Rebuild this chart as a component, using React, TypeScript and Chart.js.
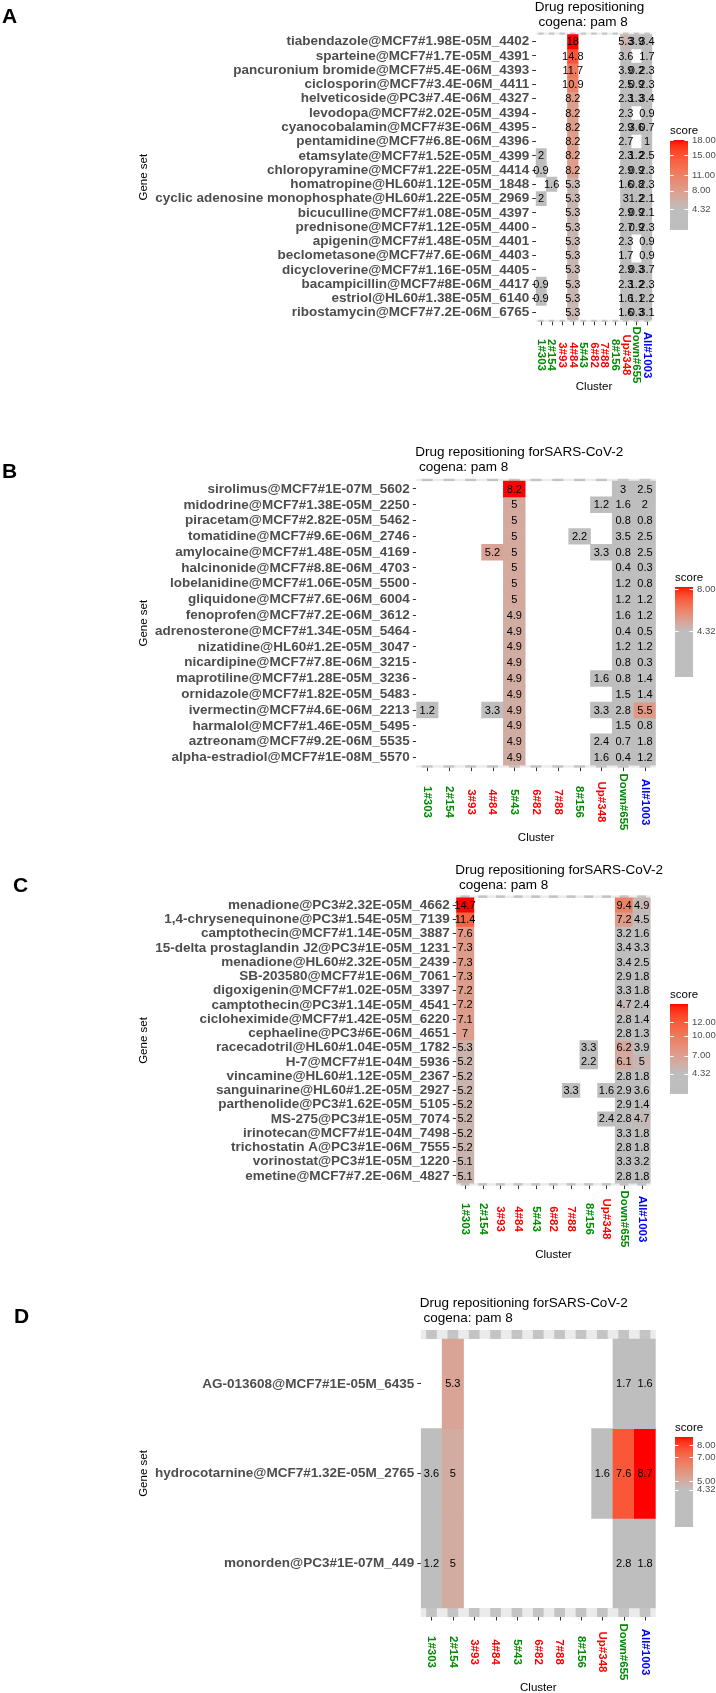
import React, { useEffect, useRef } from "react";
import { Chart, registerables } from "chart.js";

Chart.register(...registerables);

type Cell = number | null;
const _ = null;

// ---------- shared axis data ----------
const clusters = ["1#303", "2#154", "3#93", "4#84", "5#43", "6#82", "7#88", "8#156", "Up#348", "Down#655", "All#1003"];
const clusterColors = ["#008B00", "#008B00", "#FF0000", "#FF0000", "#008B00", "#FF0000", "#FF0000", "#008B00", "#FF0000", "#008B00", "#0000FF"];
const THRESHOLD = 4.32;

// ---------- panel A ----------
const aGeneSets = [
  "tiabendazole@MCF7#1.98E-05M_4402",
  "sparteine@MCF7#1.7E-05M_4391",
  "pancuronium bromide@MCF7#5.4E-06M_4393",
  "ciclosporin@MCF7#3.4E-06M_4411",
  "helveticoside@PC3#7.4E-06M_4327",
  "levodopa@MCF7#2.02E-05M_4394",
  "cyanocobalamin@MCF7#3E-06M_4395",
  "pentamidine@MCF7#6.8E-06M_4396",
  "etamsylate@MCF7#1.52E-05M_4399",
  "chloropyramine@MCF7#1.22E-05M_4414",
  "homatropine@HL60#1.12E-05M_1848",
  "cyclic adenosine monophosphate@HL60#1.22E-05M_2969",
  "bicuculline@MCF7#1.08E-05M_4397",
  "prednisone@MCF7#1.12E-05M_4400",
  "apigenin@MCF7#1.48E-05M_4401",
  "beclometasone@MCF7#7.6E-06M_4403",
  "dicycloverine@MCF7#1.16E-05M_4405",
  "bacampicillin@MCF7#8E-06M_4417",
  "estriol@HL60#1.38E-05M_6140",
  "ribostamycin@MCF7#7.2E-06M_6765",
];
const aScores: Cell[][] = [
  [_, _, _, 18, _, _, _, _, 5.3, 3.9, 3.4],
  [_, _, _, 14.8, _, _, _, _, 3.6, _, 1.7],
  [_, _, _, 11.7, _, _, _, _, 3.9, 0.2, 2.3],
  [_, _, _, 10.9, _, _, _, _, 2.5, 0.9, 2.3],
  [_, _, _, 8.2, _, _, _, _, 2.3, 1.3, 3.4],
  [_, _, _, 8.2, _, _, _, _, 2.3, _, 0.9],
  [_, _, _, 8.2, _, _, _, _, 2.9, 3.6, 0.7],
  [_, _, _, 8.2, _, _, _, _, 2.7, _, 1],
  [2, _, _, 8.2, _, _, _, _, 2.3, 1.2, 2.5],
  [0.9, _, _, 8.2, _, _, _, _, 2.9, 0.9, 2.3],
  [_, 1.6, _, 5.3, _, _, _, _, 1.6, 0.8, 2.3],
  [2, _, _, 5.3, _, _, _, _, 3, 1.2, 2.1],
  [_, _, _, 5.3, _, _, _, _, 2.9, 0.9, 2.1],
  [_, _, _, 5.3, _, _, _, _, 2.7, 0.9, 2.3],
  [_, _, _, 5.3, _, _, _, _, 2.3, _, 0.9],
  [_, _, _, 5.3, _, _, _, _, 1.7, _, 0.9],
  [_, _, _, 5.3, _, _, _, _, 2.9, 0.3, 3.7],
  [0.9, _, _, 5.3, _, _, _, _, 2.3, 1.2, 2.3],
  [0.9, _, _, 5.3, _, _, _, _, 1.6, 1.1, 2.2],
  [_, _, _, 5.3, _, _, _, _, 1.6, 0.3, 3.1],
];
const aBreaks = [18, 15, 11, 8, 4.32];

// ---------- panel B ----------
const bGeneSets = [
  "sirolimus@MCF7#1E-07M_5602",
  "midodrine@MCF7#1.38E-05M_2250",
  "piracetam@MCF7#2.82E-05M_5462",
  "tomatidine@MCF7#9.6E-06M_2746",
  "amylocaine@MCF7#1.48E-05M_4169",
  "halcinonide@MCF7#8.8E-06M_4703",
  "lobelanidine@MCF7#1.06E-05M_5500",
  "gliquidone@MCF7#7.6E-06M_6004",
  "fenoprofen@MCF7#7.2E-06M_3612",
  "adrenosterone@MCF7#1.34E-05M_5464",
  "nizatidine@HL60#1.2E-05M_3047",
  "nicardipine@MCF7#7.8E-06M_3215",
  "maprotiline@MCF7#1.28E-05M_3236",
  "ornidazole@MCF7#1.82E-05M_5483",
  "ivermectin@MCF7#4.6E-06M_2213",
  "harmalol@MCF7#1.46E-05M_5495",
  "aztreonam@MCF7#9.2E-06M_5535",
  "alpha-estradiol@MCF7#1E-08M_5570",
];
const bScores: Cell[][] = [
  [_, _, _, _, 8.2, _, _, _, _, 3, 2.5],
  [_, _, _, _, 5, _, _, _, 1.2, 1.6, 2],
  [_, _, _, _, 5, _, _, _, _, 0.8, 0.8],
  [_, _, _, _, 5, _, _, 2.2, _, 3.5, 2.5],
  [_, _, _, 5.2, 5, _, _, _, 3.3, 0.8, 2.5],
  [_, _, _, _, 5, _, _, _, _, 0.4, 0.3],
  [_, _, _, _, 5, _, _, _, _, 1.2, 0.8],
  [_, _, _, _, 5, _, _, _, _, 1.2, 1.2],
  [_, _, _, _, 4.9, _, _, _, _, 1.6, 1.2],
  [_, _, _, _, 4.9, _, _, _, _, 0.4, 0.5],
  [_, _, _, _, 4.9, _, _, _, _, 1.2, 1.2],
  [_, _, _, _, 4.9, _, _, _, _, 0.8, 0.3],
  [_, _, _, _, 4.9, _, _, _, 1.6, 0.8, 1.4],
  [_, _, _, _, 4.9, _, _, _, _, 1.5, 1.4],
  [1.2, _, _, 3.3, 4.9, _, _, _, 3.3, 2.8, 5.5],
  [_, _, _, _, 4.9, _, _, _, _, 1.5, 0.8],
  [_, _, _, _, 4.9, _, _, _, 2.4, 0.7, 1.8],
  [_, _, _, _, 4.9, _, _, _, 1.6, 0.4, 1.2],
];
const bBreaks = [8, 4.32];

// ---------- panel C ----------
const cGeneSets = [
  "menadione@PC3#2.32E-05M_4662",
  "1,4-chrysenequinone@PC3#1.54E-05M_7139",
  "camptothecin@MCF7#1.14E-05M_3887",
  "15-delta prostaglandin J2@PC3#1E-05M_1231",
  "menadione@HL60#2.32E-05M_2439",
  "SB-203580@MCF7#1E-06M_7061",
  "digoxigenin@MCF7#1.02E-05M_3397",
  "camptothecin@PC3#1.14E-05M_4541",
  "cicloheximide@MCF7#1.42E-05M_6220",
  "cephaeline@PC3#6E-06M_4651",
  "racecadotril@HL60#1.04E-05M_1782",
  "H-7@MCF7#1E-04M_5936",
  "vincamine@HL60#1.12E-05M_2367",
  "sanguinarine@HL60#1.2E-05M_2927",
  "parthenolide@PC3#1.62E-05M_5105",
  "MS-275@PC3#1E-05M_7074",
  "irinotecan@MCF7#1E-04M_7498",
  "trichostatin A@PC3#1E-06M_7555",
  "vorinostat@PC3#1E-05M_1220",
  "emetine@MCF7#7.2E-06M_4827",
];
const cScores: Cell[][] = [
  [14.7, _, _, _, _, _, _, _, _, 9.4, 4.9],
  [11.4, _, _, _, _, _, _, _, _, 7.2, 4.5],
  [7.6, _, _, _, _, _, _, _, _, 3.2, 1.6],
  [7.3, _, _, _, _, _, _, _, _, 3.4, 3.3],
  [7.3, _, _, _, _, _, _, _, _, 3.4, 2.5],
  [7.3, _, _, _, _, _, _, _, _, 2.9, 1.8],
  [7.2, _, _, _, _, _, _, _, _, 3.3, 1.8],
  [7.2, _, _, _, _, _, _, _, _, 4.7, 2.4],
  [7.1, _, _, _, _, _, _, _, _, 2.8, 1.4],
  [7, _, _, _, _, _, _, _, _, 2.8, 1.3],
  [5.3, _, _, _, _, _, _, 3.3, _, 6.2, 3.9],
  [5.2, _, _, _, _, _, _, 2.2, _, 6.1, 5],
  [5.2, _, _, _, _, _, _, _, _, 2.8, 1.8],
  [5.2, _, _, _, _, _, 3.3, _, 1.6, 2.9, 3.6],
  [5.2, _, _, _, _, _, _, _, _, 2.9, 1.4],
  [5.2, _, _, _, _, _, _, _, 2.4, 2.8, 4.7],
  [5.2, _, _, _, _, _, _, _, _, 3.3, 1.8],
  [5.2, _, _, _, _, _, _, _, _, 2.8, 1.8],
  [5.1, _, _, _, _, _, _, _, _, 3.3, 3.2],
  [5.1, _, _, _, _, _, _, _, _, 2.8, 1.8],
];
const cBreaks = [12, 10, 7, 4.32];

// ---------- panel D ----------
const dGeneSets = [
  "AG-013608@MCF7#1E-05M_6435",
  "hydrocotarnine@MCF7#1.32E-05M_2765",
  "monorden@PC3#1E-07M_449",
];
const dScores: Cell[][] = [
  [_, 5.3, _, _, _, _, _, _, _, 1.7, 1.6],
  [3.6, 5, _, _, _, _, _, _, 1.6, 7.6, 8.7],
  [1.2, 5, _, _, _, _, _, _, _, 2.8, 1.8],
];
const dBreaks = [8, 7, 5, 4.32];

// ---------- colour scale (Lab interpolation grey -> red) ----------
const FONT = "'Liberation Sans', Arial, Helvetica, sans-serif";
const LOW_RGB = [190, 190, 190];
const HIGH_RGB = [255, 0, 0];

function toLin(c: number) {
  const v = c / 255;
  return v <= 0.04045 ? v / 12.92 : Math.pow((v + 0.055) / 1.055, 2.4);
}
function fromLin(c: number) {
  const v = c <= 0.0031308 ? 12.92 * c : 1.055 * Math.pow(c, 1 / 2.4) - 0.055;
  return Math.round(Math.max(0, Math.min(1, v)) * 255);
}
function rgbToLab(rgb: number[]) {
  const [R, G, B] = rgb.map(toLin);
  const X = (0.4124 * R + 0.3576 * G + 0.1805 * B) / 0.95047;
  const Y = 0.2126 * R + 0.7152 * G + 0.0722 * B;
  const Z = (0.0193 * R + 0.1192 * G + 0.9505 * B) / 1.08883;
  const f = (t: number) => (t > 0.008856 ? Math.cbrt(t) : 7.787 * t + 16 / 116);
  const fx = f(X), fy = f(Y), fz = f(Z);
  return [116 * fy - 16, 500 * (fx - fy), 200 * (fy - fz)];
}
function labToRgb(lab: number[]) {
  const [L, a, b] = lab;
  const fy = (L + 16) / 116;
  const fx = fy + a / 500;
  const fz = fy - b / 200;
  const inv = (t: number) => (t * t * t > 0.008856 ? t * t * t : (t - 16 / 116) / 7.787);
  const X = 0.95047 * inv(fx), Y = inv(fy), Z = 1.08883 * inv(fz);
  const R = 3.2406 * X - 1.5372 * Y - 0.4986 * Z;
  const G = -0.9689 * X + 1.8758 * Y + 0.0415 * Z;
  const Bl = 0.0557 * X - 0.204 * Y + 1.057 * Z;
  return [fromLin(R), fromLin(G), fromLin(Bl)];
}
const LOW_LAB = rgbToLab(LOW_RGB);
const HIGH_LAB = rgbToLab(HIGH_RGB);
function scoreColor(v: number, vmax: number) {
  if (v <= THRESHOLD) return `rgb(${LOW_RGB.join(",")})`;
  const t = Math.min(1, (v - THRESHOLD) / (vmax - THRESHOLD));
  const lab = LOW_LAB.map((l, i) => l + (HIGH_LAB[i] - l) * t);
  const [r, g, b] = labToRgb(lab);
  return `rgb(${r},${g},${b})`;
}

// ---------- panel layouts ----------
interface PanelCfg {
  letter: string;
  title1: string;
  title2: string;
  rows: string[];
  scores: Cell[][];
  breaks: number[];
  canvasTop: number;
  height: number;
  left: number;
  right: number;
  top: number;
  bottom: number;
  pad: number;
  letterX: number;
  letterBase: number;
  titleBase: number;
  xLabelY: number;
  clusterY: number;
  legendX: number;
  legendTop: number;
}

const panels: PanelCfg[] = [
  {
    letter: "A", title1: "Drug repositioning", title2: " cogena: pam 8",
    rows: aGeneSets, scores: aScores, breaks: aBreaks,
    canvasTop: 0, height: 420, left: 535.7, right: 652.3, top: 32.6, bottom: 321.8, pad: 0.14,
    letterX: 2, letterBase: 23, titleBase: 10.5, xLabelY: 355, clusterY: 387, legendX: 670, legendTop: 140,
  },
  {
    letter: "B", title1: "Drug repositioning forSARS-CoV-2", title2: " cogena: pam 8",
    rows: bGeneSets, scores: bScores, breaks: bBreaks,
    canvasTop: 420, height: 430, left: 416.3, right: 655.8, top: 478.8, bottom: 767.6, pad: 0.146,
    letterX: 2, letterBase: 478, titleBase: 455.7, xLabelY: 802, clusterY: 837.5, legendX: 675, legendTop: 587,
  },
  {
    letter: "C", title1: "Drug repositioning forSARS-CoV-2", title2: " cogena: pam 8",
    rows: cGeneSets, scores: cScores, breaks: cBreaks,
    canvasTop: 850, height: 425, left: 456.2, right: 650.6, top: 895.4, bottom: 1185.6, pad: 0.175,
    letterX: 13, letterBase: 892, titleBase: 873.7, xLabelY: 1219, clusterY: 1255, legendX: 670, legendTop: 1004,
  },
  {
    letter: "D", title1: "Drug repositioning forSARS-CoV-2", title2: " cogena: pam 8",
    rows: dGeneSets, scores: dScores, breaks: dBreaks,
    canvasTop: 1275, height: 418, left: 420.8, right: 655.7, top: 1330, bottom: 1617, pad: 0.1,
    letterX: 14, letterBase: 1323, titleBase: 1306.7, xLabelY: 1652, clusterY: 1688, legendX: 675, legendTop: 1437,
  },
];

function HeatPanel({ cfg }: { cfg: PanelCfg }) {
  const ref = useRef<HTMLCanvasElement | null>(null);

  useEffect(() => {
    const canvas = ref.current;
    if (!canvas) return;
    const T = cfg.canvasTop;
    const n = cfg.rows.length;
    const vals = cfg.scores.flat().filter((v): v is number => v != null);
    const vmin = Math.min(...vals);
    const vmax = Math.max(...vals);

    const datasets = cfg.rows.map((name, r) => ({
      label: name,
      data: cfg.scores[r].map((v) => (v == null ? null : [r - 0.5, r + 0.5])),
      backgroundColor: cfg.scores[r].map((v) => (v == null ? "rgba(0,0,0,0)" : scoreColor(v, vmax))),
      borderWidth: 0,
      grouped: false,
      barPercentage: 1,
      categoryPercentage: 1,
    }));

    const decor = {
      id: "heatDecor",
      beforeDatasetsDraw(chart: any) {
        const { ctx, chartArea: a, scales } = chart;
        const x = scales.x, y = scales.y;
        const yT = y.getPixelForValue(-0.5);
        const yB = y.getPixelForValue(n - 0.5);
        const colW = (a.right - a.left) / clusters.length;
        ctx.save();
        ctx.fillStyle = "#EBEBEB";
        ctx.fillRect(a.left, a.top, a.right - a.left, yT - a.top);
        ctx.fillRect(a.left, yB, a.right - a.left, a.bottom - yB);
        ctx.fillStyle = "#C4C4C4";
        clusters.forEach((lbl, c) => {
          const cx = x.getPixelForValue(c);
          ctx.fillRect(cx - colW * 0.25, a.top, colW * 0.5, yT - a.top);
          ctx.fillRect(cx - colW * 0.25, yB, colW * 0.5, a.bottom - yB);
        });
        ctx.restore();
      },
      afterDatasetsDraw(chart: any) {
        const { ctx, scales } = chart;
        const x = scales.x, y = scales.y;
        ctx.save();
        ctx.font = `11px ${FONT}`;
        ctx.fillStyle = "#000";
        ctx.textAlign = "center";
        ctx.textBaseline = "middle";
        cfg.scores.forEach((row, r) => {
          row.forEach((v, c) => {
            if (v == null) return;
            ctx.fillText(String(v), x.getPixelForValue(c), y.getPixelForValue(r) + 0.5);
          });
        });
        ctx.restore();
      },
      afterDraw(chart: any) {
        const { ctx, chartArea: a, scales } = chart;
        const x = scales.x;
        ctx.save();
        // panel letter
        ctx.fillStyle = "#000";
        ctx.textAlign = "left";
        ctx.textBaseline = "alphabetic";
        ctx.font = `bold 21px ${FONT}`;
        ctx.fillText(cfg.letter, cfg.letterX, cfg.letterBase - T);
        // title
        ctx.font = `13.5px ${FONT}`;
        ctx.fillText(cfg.title1, a.left - 1, cfg.titleBase - T);
        ctx.fillText(cfg.title2, a.left - 1, cfg.titleBase - T + 15);
        // y axis title
        ctx.save();
        ctx.translate(143.5, (a.top + a.bottom) / 2);
        ctx.rotate(-Math.PI / 2);
        ctx.textAlign = "center";
        ctx.textBaseline = "middle";
        ctx.font = `11.5px ${FONT}`;
        ctx.fillText("Gene set", 0, 0);
        ctx.restore();
        // x axis title
        ctx.textAlign = "center";
        ctx.textBaseline = "middle";
        ctx.font = `11.5px ${FONT}`;
        ctx.fillText("Cluster", (a.left + a.right) / 2, cfg.clusterY - T);
        // x ticks + labels
        ctx.strokeStyle = "#333";
        ctx.lineWidth = 1;
        clusters.forEach((lbl, c) => {
          const cx = x.getPixelForValue(c);
          const px = Math.round(cx) + 0.5;
          ctx.beginPath();
          ctx.moveTo(px, a.bottom);
          ctx.lineTo(px, a.bottom + 3.5);
          ctx.stroke();
          ctx.save();
          ctx.translate(cx, cfg.xLabelY - T);
          ctx.rotate(Math.PI / 2);
          ctx.font = `bold 11.5px ${FONT}`;
          ctx.fillStyle = clusterColors[c];
          ctx.textAlign = "center";
          ctx.textBaseline = "middle";
          ctx.fillText(lbl, 0, 0);
          ctx.restore();
        });
        // legend
        const bx = cfg.legendX, bt = cfg.legendTop - T, bw = 18, bh = 90;
        for (let i = 0; i < bh; i++) {
          const v = vmax - ((i + 0.5) / bh) * (vmax - vmin);
          ctx.fillStyle = scoreColor(v, vmax);
          ctx.fillRect(bx, bt + i, bw, 1);
        }
        ctx.strokeStyle = "#FFFFFF";
        ctx.lineWidth = 1;
        ctx.font = `9.5px ${FONT}`;
        ctx.textAlign = "left";
        ctx.textBaseline = "middle";
        cfg.breaks.forEach((b) => {
          const yy = bt + ((vmax - b) / (vmax - vmin)) * bh;
          const py = Math.round(yy) + 0.5;
          ctx.beginPath();
          ctx.moveTo(bx, py);
          ctx.lineTo(bx + 3.6, py);
          ctx.moveTo(bx + bw - 3.6, py);
          ctx.lineTo(bx + bw, py);
          ctx.stroke();
          ctx.fillStyle = "#4D4D4D";
          ctx.fillText(b.toFixed(2), bx + bw + 4, yy);
        });
        ctx.fillStyle = "#000";
        ctx.font = `11.5px ${FONT}`;
        ctx.textBaseline = "alphabetic";
        ctx.fillText("score", bx, bt - 6);
        ctx.restore();
      },
    };

    const chart = new Chart(canvas, {
      type: "bar",
      data: { labels: clusters, datasets: datasets as any },
      options: {
        responsive: false,
        maintainAspectRatio: false,
        animation: false,
        devicePixelRatio: 1,
        events: [],
        layout: {
          padding: {
            left: 0,
            right: 716 - cfg.right,
            top: cfg.top - T,
            bottom: cfg.height - (cfg.bottom - T),
          },
        },
        plugins: {
          legend: { display: false },
          tooltip: { enabled: false },
          title: { display: false },
        },
        scales: {
          x: {
            type: "category",
            display: false,
            offset: true,
          },
          y: {
            type: "linear",
            reverse: true,
            min: -0.5 - cfg.pad,
            max: n - 0.5 + cfg.pad,
            afterBuildTicks: (scale: any) => {
              scale.ticks = cfg.rows.map((nm, i) => ({ value: i }));
            },
            afterFit: (scale: any) => {
              scale.width = cfg.left;
            },
            ticks: {
              autoSkip: false,
              padding: 3,
              color: "#4D4D4D",
              font: { family: FONT, size: 13.5, weight: "bold", lineHeight: 1 },
              callback: (v: any) => cfg.rows[Math.round(Number(v))] ?? "",
            },
            grid: {
              display: true,
              drawOnChartArea: false,
              drawTicks: true,
              tickLength: 3.5,
              color: "#333333",
              lineWidth: 1,
            },
            border: { display: false },
          },
        },
      },
      plugins: [decor],
    } as any);

    return () => chart.destroy();
  }, [cfg]);

  return (
    <canvas
      ref={ref}
      width={716}
      height={cfg.height}
      style={{ position: "absolute", left: 0, top: cfg.canvasTop, width: 716, height: cfg.height, display: "block" }}
    />
  );
}

export default function App() {
  return (
    <div style={{ position: "absolute", left: 0, top: 0, width: 716, height: 1693, background: "#ffffff", overflow: "hidden" }}>
      {panels.map((p) => (
        <HeatPanel key={p.letter} cfg={p} />
      ))}
    </div>
  );
}
